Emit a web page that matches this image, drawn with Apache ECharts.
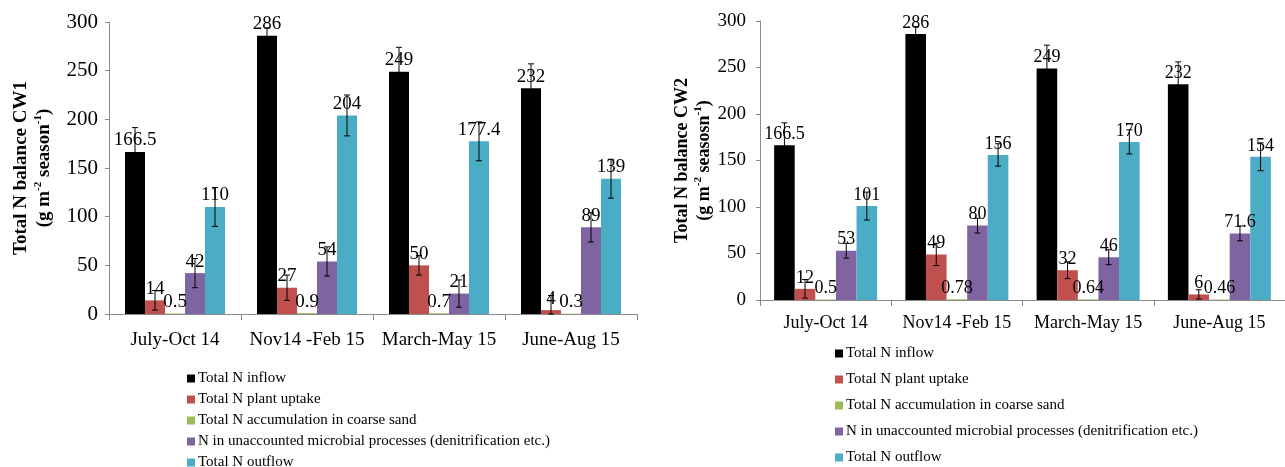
<!DOCTYPE html>
<html>
<head>
<meta charset="utf-8">
<script src="https://cdn.jsdelivr.net/npm/echarts@6/dist/echarts.min.js"></script>
<style>
  html, body { margin: 0; padding: 0; background: #fff; }
  #chart { width: 1285px; height: 467px; }
</style>
</head>
<body>
<div id="chart"></div>
<script>
// Seasons on the category axis
const categories = ['July-Oct 14', 'Nov14 -Feb 15', 'March-May 15', 'June-Aug 15'];

// Components of the nitrogen balance
const seriesNames = [
  'Total N inflow',
  'Total N plant uptake',
  'Total N accumulation in coarse sand',
  'N in unaccounted microbial processes (denitrification etc.)',
  'Total N outflow'
];
const seriesColors = ['#000000', '#C0504D', '#9BBB59', '#8064A2', '#4BACC6'];

// CW1 values (g m-2 season-1)
const inflowCW1 = [166.5, 286, 249, 232];
const uptakeCW1 = [14, 27, 50, 4];
const sandCW1 = [0.5, 0.9, 0.7, 0.3];
const microbialCW1 = [42, 54, 21, 89];
const outflowCW1 = [110, 204, 177.4, 139];
// CW1 error bar half-widths
const inflowErrCW1 = [25, 8, 25, 25];
const uptakeErrCW1 = [10, 13, 10, 15];
const sandErrCW1 = [0, 0, 0, 0];
const microbialErrCW1 = [15, 15, 14, 15];
const outflowErrCW1 = [20, 21, 20, 20];

// CW2 values (g m-2 season-1)
const inflowCW2 = [166.5, 286, 249, 232];
const uptakeCW2 = [12, 49, 32, 6];
const sandCW2 = [0.5, 0.78, 0.64, 0.46];
const microbialCW2 = [53, 80, 46, 71.6];
const outflowCW2 = [101, 156, 170, 154];
// CW2 error bar half-widths
const inflowErrCW2 = [24, 8, 25, 24];
const uptakeErrCW2 = [10, 12, 9, 5];
const sandErrCW2 = [0, 0, 0, 0];
const microbialErrCW2 = [8, 8, 8, 8];
const outflowErrCW2 = [15, 12, 13, 15];

// Y-axis ticks
const yMin = 0, yMax = 300, yStep = 50;

const FONT = '"Liberation Serif", "Times New Roman", serif';

const cw1Values = [inflowCW1, uptakeCW1, sandCW1, microbialCW1, outflowCW1];
const cw1Errors = [inflowErrCW1, uptakeErrCW1, sandErrCW1, microbialErrCW1, outflowErrCW1];
const cw2Values = [inflowCW2, uptakeCW2, sandCW2, microbialCW2, outflowCW2];
const cw2Errors = [inflowErrCW2, uptakeErrCW2, sandErrCW2, microbialErrCW2, outflowErrCW2];

const panels = [
  { values: cw1Values, errors: cw1Errors, barWidth: 20, labelSize: 19, title: 'CW1', unit: 'season' },
  { values: cw2Values, errors: cw2Errors, barWidth: 20.6, labelSize: 18, title: 'CW2', unit: 'seasosn' }
];

function axisTitle(name, unit, size) {
  return {
    name: '{b|Total N balance ' + name + '}\n{b|(g m}{s|-2}{b| ' + unit + '}{s|-1}{b|)}',
    rich: {
      b: { fontFamily: FONT, fontWeight: 'bold', fontSize: size, color: '#000', lineHeight: size + 4 },
      s: { fontFamily: FONT, fontWeight: 'bold', fontSize: Math.round(size * 0.6), color: '#000',
           verticalAlign: 'top', lineHeight: size + 4, padding: [0, 0, 8, 0] }
    }
  };
}

const grids = [
  { left: 109, top: 22, width: 528, height: 292 },
  { left: 760, top: 21, width: 536, height: 279 }
];

const xAxes = grids.map((g, i) => ({
  type: 'category',
  gridIndex: i,
  data: categories,
  axisLine: { lineStyle: { color: '#8a8a8a', width: 1 } },
  axisTick: { show: true, length: 6, lineStyle: { color: '#8a8a8a' } },
  axisLabel: { interval: 0, color: '#000', fontFamily: FONT, fontSize: i === 0 ? 19 : 18, margin: i === 0 ? 17 : 14 }
}));

const yAxes = grids.map((g, i) => {
  const t = axisTitle(panels[i].title, panels[i].unit, i === 0 ? 19 : 18);
  return {
    type: 'value',
    gridIndex: i,
    min: yMin, max: yMax, interval: yStep,
    name: t.name,
    nameLocation: 'middle',
    nameRotate: 90,
    nameGap: i === 0 ? 53 : 45,
    nameTextStyle: { rich: t.rich },
    splitLine: { show: false },
    axisLine: { show: true, lineStyle: { color: '#8a8a8a', width: 1 } },
    axisTick: { show: true, length: 4, lineStyle: { color: '#8a8a8a' } },
    axisLabel: { color: '#000', fontFamily: FONT, fontSize: i === 0 ? 21 : 19, margin: i === 0 ? 11 : 14 }
  };
});

const series = [];
panels.forEach((p, gi) => {
  p.values.forEach((vals, k) => {
    series.push({
      type: 'bar',
      name: seriesNames[k],
      xAxisIndex: gi, yAxisIndex: gi,
      data: vals,
      barWidth: p.barWidth,
      barGap: '0%',
      itemStyle: { color: seriesColors[k] },
      label: {
        show: true, position: 'top', distance: 2,
        color: '#000', fontFamily: FONT, fontSize: p.labelSize,
        formatter: (d) => String(d.value)
      },
      z: 2
    });
  });
  // Error bars: [category, series index, value, half-width]
  const errData = [];
  p.values.forEach((vals, k) => {
    vals.forEach((v, c) => errData.push([c, k, v, p.errors[k][c]]));
  });
  const bw = p.barWidth;
  series.push({
    type: 'custom',
    name: 'err' + gi,
    xAxisIndex: gi, yAxisIndex: gi,
    data: errData,
    encode: { x: 0, y: 2 },
    z: 5,
    silent: true,
    renderItem: (params, api) => {
      const c = api.value(0), k = api.value(1), v = api.value(2), e = api.value(3);
      if (!e) return null;
      const top = api.coord([c, v + e]);
      const bot = api.coord([c, Math.max(yMin, v - e)]);
      const x = top[0] + (k - 2) * bw;
      const cap = 3;
      const st = { stroke: '#000', lineWidth: 1 };
      return {
        type: 'group',
        children: [
          { type: 'line', shape: { x1: x, y1: top[1], x2: x, y2: bot[1] }, style: st },
          { type: 'line', shape: { x1: x - cap, y1: top[1], x2: x + cap, y2: top[1] }, style: st },
          { type: 'line', shape: { x1: x - cap, y1: bot[1], x2: x + cap, y2: bot[1] }, style: st }
        ]
      };
    }
  });
});

const legendBase = {
  orient: 'vertical',
  icon: 'rect',
  itemWidth: 8,
  itemHeight: 8,
  padding: 0,
  height: 160,
  selectedMode: false,
  data: seriesNames,
  textStyle: { color: '#000', fontFamily: FONT, fontSize: 15, lineHeight: 17, padding: [0, 0, 0, -2] }
};

const option = {
  animation: false,
  backgroundColor: '#fff',
  grid: grids,
  xAxis: xAxes,
  yAxis: yAxes,
  legend: [
    Object.assign({}, legendBase, { left: 187, top: 370, itemGap: 4 }),
    Object.assign({}, legendBase, { left: 835, top: 345, itemGap: 9 })
  ],
  series: series
};

const chart = echarts.init(document.getElementById('chart'), null, { renderer: 'canvas' });
chart.setOption(option);
</script>
</body>
</html>
